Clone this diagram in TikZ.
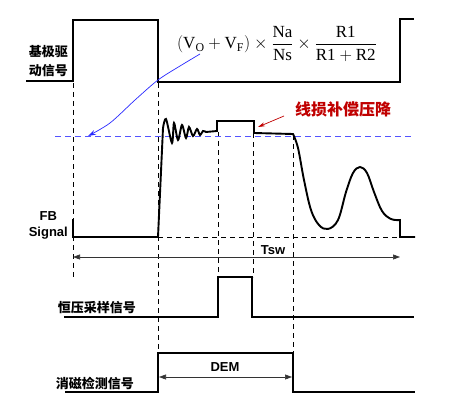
\documentclass[tikz,border=0pt]{standalone}
\usepackage{amsmath}
\usepackage{fontspec}
\setmainfont{Liberation Serif}
\setsansfont{Liberation Sans}
\newfontfamily\cjk{Noto Sans CJK SC}
\usepackage{tikz}
\usetikzlibrary{arrows.meta}
\definecolor{lossred}{RGB}{192,0,0}
\definecolor{refblue}{RGB}{40,40,255}
\tikzset{
  signal/.style={line width=1.9pt, line join=miter},
  guide/.style={line width=0.6pt, dash pattern=on 5pt off 4pt},
  cjklabel/.style={font=\cjk\bfseries\fontsize{13}{19}\selectfont, inner sep=0pt},
  sflabel/.style={font=\sffamily\bfseries\fontsize{13}{16}\selectfont, inner sep=0pt},
  span/.style={line width=0.6pt, {Triangle[length=7pt,width=5pt]}-{Triangle[length=7pt,width=5pt]}}
}

\begin{document}
\begin{tikzpicture}[x=1pt,y=-1pt]
\useasboundingbox (0,0) rectangle (454,414);
% guides
\draw[guide] (73,83) -- (73,280);
\draw[guide] (158,83) -- (158,353);
\draw[guide] (218,132) -- (218,277);
\draw[guide] (253,133) -- (253,277);
\draw[guide] (293,135) -- (293,353);
\draw[guide] (158,237) -- (400,237);
\draw[refblue!80, line width=0.7pt, dash pattern=on 6pt off 4pt] (55,136) -- (412,136);
% base drive
\draw[signal] (26,81) -- (73,81) -- (73,20) -- (158,20) -- (158,82) -- (400,82) -- (400,19) -- (414,19);
% FB signal
\draw[signal] (73,219) -- (73,237) -- (158,237) -- (163,128)
  -- plot[smooth, tension=0.5] coordinates {(163,128) (166,119) (172,143) (174,123) (178,140) (182,125) (186,138) (189,127) (193,136) (197,129) (200,135) (203,131) (206,132)}
  -- (217,131) -- (217,121) -- (254,121) -- (254,133) -- (293,134)
  -- plot[smooth, tension=0.6] coordinates {(293,134) (298,148) (304,180) (311,210) (319,225) (328,229) (338,220) (346,192) (353,173) (360,167) (367,173) (374,192) (382,211) (391,219) (400,220)}
  -- (400,237) -- (415,237);
% sampling
\draw[signal] (64,317) -- (218,317) -- (218,277) -- (252,277) -- (252,317) -- (414,317);
% demag
\draw[signal] (65,392) -- (158,392) -- (158,353) -- (293,353) -- (293,392) -- (415,392);
% labels
\node[cjklabel, anchor=east, align=right] (drive) at (68,61) {基极驱\\动信号};
\node[sflabel, anchor=east, align=center] (fb) at (68,225) {FB\\Signal};
\node[cjklabel, anchor=east] (sample) at (136,308) {恒压采样信号};
\node[cjklabel, anchor=east] (demag) at (134,383) {消磁检测信号};
\node[font=\fontsize{17}{20}\selectfont, inner sep=0pt] (formula) at (277,44)
  {$\left(\text{V}_{\text{O}}+\text{V}_{\text{F}}\right)\times\dfrac{\text{Na}}{\text{Ns}}\times\dfrac{\text{R1}}{\text{R1}+\text{R2}}$};
\node[cjklabel, text=lossred, font=\cjk\bfseries\fontsize{16}{18}\selectfont] (loss) at (343,109) {线损补偿压降};
\node[sflabel] (tsw) at (273,250) {Tsw};
\node[sflabel] (dem) at (225,367) {DEM};
% arrows
\coordinate (vo) at (200,54);
\coordinate (vref) at (88,136);
\coordinate (step) at (258,127);
\draw[refblue, line width=0.7pt, -{Stealth[length=8pt,width=5pt]}] plot[smooth] coordinates {(vo) (180,66) (158,80) (135,100) (110,123) (vref)};
\draw[lossred, line width=0.7pt, -{Stealth[length=7pt,width=4pt]}] (284,116) -- (step);
\coordinate (tswl) at (73,257);
\coordinate (tswr) at (400,257);
\draw[span, black!80] (tswl) -- (tswr);
\coordinate (deml) at (159,377);
\coordinate (demr) at (292,377);
\draw[span, black!80] (deml) -- (demr);
\end{tikzpicture}
\end{document}
